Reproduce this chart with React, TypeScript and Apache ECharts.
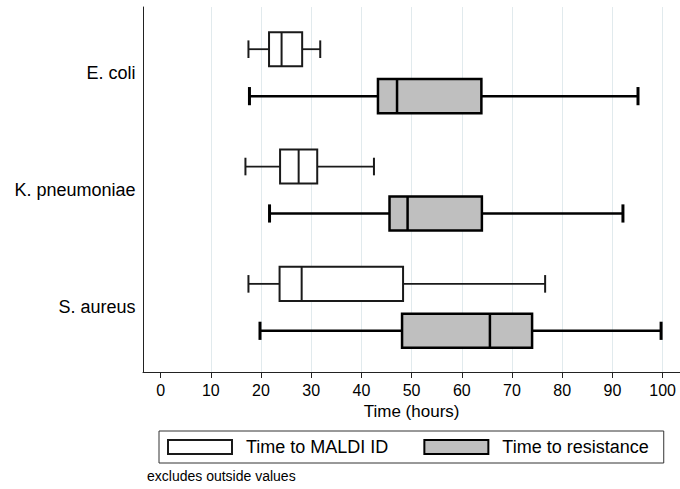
import React, { useEffect, useRef } from 'react';
import * as echarts from 'echarts';

const categories = ['E. coli', 'K. pneumoniae', 'S. aureus'];
const seriesNames = ['Time to MALDI ID', 'Time to resistance'];

const maldiMin = [17.5, 16.9, 17.5];
const maldiQ1 = [21.6, 23.8, 23.7];
const maldiMedian = [24.1, 27.5, 28.1];
const maldiQ3 = [28.2, 31.2, 48.3];
const maldiMax = [31.8, 42.5, 76.6];

const resMin = [17.7, 21.7, 19.8];
const resQ1 = [43.3, 45.6, 48.1];
const resMedian = [47.1, 49.2, 65.6];
const resQ3 = [63.9, 64.0, 74.0];
const resMax = [95.1, 92.1, 99.7];

const xTicks = [0, 10, 20, 30, 40, 50, 60, 70, 80, 90, 100];

const FONT = "'Liberation Sans', Arial, Helvetica, sans-serif";
const GRID_COLOR = '#e1eaed';
const AXIS_COLOR = '#222';

function buildRows(mins: number[], q1: number[], med: number[], q3: number[], maxs: number[]) {
  return categories.map((_, i) => [i, mins[i], q1[i], med[i], q3[i], maxs[i]]);
}

type BoxStyle = {
  offset: number;
  boxFrac: number;
  capFrac: number;
  fill: string;
  stroke: string;
  boxW: number;
  whiskerW: number;
  capW: number;
};

function makeRenderItem(s: BoxStyle) {
  return (params: any, api: any) => {
    const cat = api.value(0);
    const band = api.size([0, 1])[1];
    const base = api.coord([0, cat]);
    const yc = base[1] + s.offset * band;
    const px = (v: number) => api.coord([v, cat])[0];
    const xLo = px(api.value(1));
    const xQ1 = px(api.value(2));
    const xMed = px(api.value(3));
    const xQ3 = px(api.value(4));
    const xHi = px(api.value(5));
    const h = band * s.boxFrac;
    const cap = band * s.capFrac;
    return {
      type: 'group',
      children: [
        { type: 'line', shape: { x1: xLo, y1: yc, x2: xQ1, y2: yc }, style: { stroke: s.stroke, lineWidth: s.whiskerW } },
        { type: 'line', shape: { x1: xQ3, y1: yc, x2: xHi, y2: yc }, style: { stroke: s.stroke, lineWidth: s.whiskerW } },
        { type: 'line', shape: { x1: xLo, y1: yc - cap / 2, x2: xLo, y2: yc + cap / 2 }, style: { stroke: s.stroke, lineWidth: s.capW } },
        { type: 'line', shape: { x1: xHi, y1: yc - cap / 2, x2: xHi, y2: yc + cap / 2 }, style: { stroke: s.stroke, lineWidth: s.capW } },
        { type: 'rect', shape: { x: xQ1, y: yc - h / 2, width: xQ3 - xQ1, height: h }, style: { fill: s.fill, stroke: s.stroke, lineWidth: s.boxW } },
        { type: 'line', shape: { x1: xMed, y1: yc - h / 2, x2: xMed, y2: yc + h / 2 }, style: { stroke: s.stroke, lineWidth: s.boxW } },
      ],
    };
  };
}

export default function App() {
  const ref = useRef<HTMLDivElement>(null);

  useEffect(() => {
    document.body.style.margin = '0';
    if (!ref.current) return;
    const chart = echarts.init(ref.current, undefined, { renderer: 'svg' });

    const maldiStyle: BoxStyle = { offset: -0.2, boxFrac: 0.29, capFrac: 0.15, fill: '#ffffff', stroke: '#1a1a1a', boxW: 2, whiskerW: 1.8, capW: 2 };
    const resStyle: BoxStyle = { offset: 0.2, boxFrac: 0.29, capFrac: 0.155, fill: '#bfbfbf', stroke: '#000000', boxW: 2.5, whiskerW: 2.5, capW: 3 };

    const option: any = {
      animation: false,
      backgroundColor: '#ffffff',
      textStyle: { fontFamily: FONT },
      title: {
        text: 'excludes outside values',
        left: 147,
        top: 469,
        padding: 0,
        textStyle: { fontSize: 14, fontWeight: 'normal', color: '#000', fontFamily: FONT },
      },
      legend: {
        left: 159,
        top: 431,
        orient: 'horizontal',
        icon: 'rect',
        itemWidth: 64,
        itemHeight: 14,
        itemGap: 35,
        padding: [7, 15, 7, 8],
        borderColor: '#333',
        borderWidth: 1,
        selectedMode: false,
        textStyle: { fontSize: 18, color: '#000', fontFamily: FONT, padding: [0, 0, 0, 9] },
        data: [
          { name: seriesNames[0], itemStyle: { color: maldiStyle.fill, borderColor: maldiStyle.stroke, borderWidth: 2 } },
          { name: seriesNames[1], itemStyle: { color: resStyle.fill, borderColor: resStyle.stroke, borderWidth: 2 } },
        ],
      },
      grid: [
        { left: 143, right: 0, top: 7, bottom: 117 },
        { left: 160.6, right: 17.4, top: 7, bottom: 117 },
        { left: 160.6, right: 17.4, top: 14, bottom: 123 },
      ],
      xAxis: [
        {
          gridIndex: 0, type: 'value', min: 0, max: 1,
          axisLine: { show: true, onZero: false, lineStyle: { color: AXIS_COLOR, width: 1 } },
          axisTick: { show: false }, axisLabel: { show: false }, splitLine: { show: false },
        },
        {
          gridIndex: 1, type: 'value', min: 0, max: 100, interval: 10,
          axisLine: { show: false },
          axisTick: { show: true, length: 6, lineStyle: { color: AXIS_COLOR, width: 1 } },
          axisLabel: { show: true, fontSize: 16, color: '#000', margin: 10, fontFamily: FONT },
          splitLine: { show: true, lineStyle: { color: xTicks.map((v) => (v === 0 ? 'rgba(0,0,0,0)' : GRID_COLOR)), width: 1 } },
          name: 'Time (hours)', nameLocation: 'middle', nameGap: 28,
          nameTextStyle: { fontSize: 17, color: '#000', fontFamily: FONT },
        },
        { gridIndex: 2, type: 'value', min: 0, max: 100, show: false },
      ],
      yAxis: [
        {
          gridIndex: 0, type: 'value', min: 0, max: 1,
          axisLine: { show: true, onZero: false, lineStyle: { color: AXIS_COLOR, width: 1 } },
          axisTick: { show: false }, axisLabel: { show: false }, splitLine: { show: false },
        },
        { gridIndex: 1, type: 'value', min: 0, max: 1, show: false },
        {
          gridIndex: 2, type: 'category', data: categories, inverse: true,
          axisLine: { show: false }, axisTick: { show: false }, splitLine: { show: false },
          axisLabel: { fontSize: 18, color: '#000', margin: 25, fontFamily: FONT },
        },
      ],
      series: [
        {
          name: seriesNames[0], type: 'custom', xAxisIndex: 2, yAxisIndex: 2,
          renderItem: makeRenderItem(maldiStyle),
          encode: { y: 0, x: [1, 2, 3, 4, 5] },
          itemStyle: { color: maldiStyle.fill, borderColor: maldiStyle.stroke },
          clip: false,
          data: buildRows(maldiMin, maldiQ1, maldiMedian, maldiQ3, maldiMax),
        },
        {
          name: seriesNames[1], type: 'custom', xAxisIndex: 2, yAxisIndex: 2,
          renderItem: makeRenderItem(resStyle),
          encode: { y: 0, x: [1, 2, 3, 4, 5] },
          itemStyle: { color: resStyle.fill, borderColor: resStyle.stroke },
          clip: false,
          data: buildRows(resMin, resQ1, resMedian, resQ3, resMax),
        },
      ],
    };

    chart.setOption(option);
    return () => chart.dispose();
  }, []);

  return <div ref={ref} style={{ width: 680, height: 489 }} />;
}
